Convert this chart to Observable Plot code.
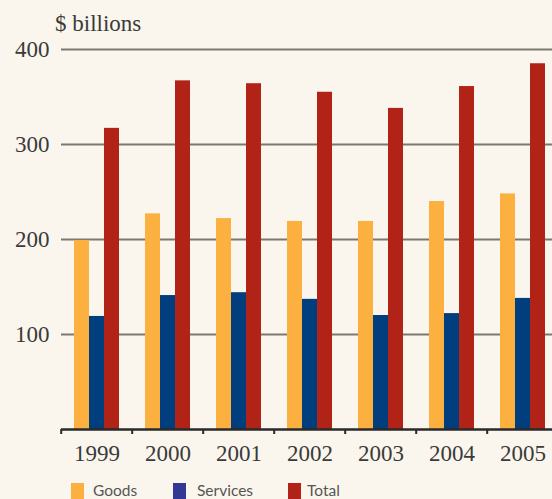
<!DOCTYPE html>
<html><head><meta charset="utf-8">
<script src="https://cdn.jsdelivr.net/npm/d3@7"></script>
<script src="https://cdn.jsdelivr.net/npm/@observablehq/plot@0.6"></script>
<style>
html,body{margin:0;padding:0;background:#faf6ed;}
body{width:552px;height:499px;overflow:hidden;position:relative;}
#chart{position:absolute;left:0;top:0;}
#ylabel{position:absolute;left:55px;top:12px;font-family:"Liberation Serif",serif;font-size:23px;line-height:23px;color:#3a3a3a;white-space:nowrap;}
.lg-sw{position:absolute;top:483px;width:13px;height:16px;}
.lg-tx{position:absolute;top:482px;font-family:Lato,"Liberation Sans",sans-serif;font-size:15.5px;line-height:16px;color:#555;white-space:nowrap;}
</style></head><body>
<div id="chart"></div>
<div id="ylabel">$ billions</div>
<div id="legend"></div>
<script>
const years = ["1999","2000","2001","2002","2003","2004","2005"];
const series = ["Goods","Services","Total"];
const goods = [199,227,222,219,219,240,248];
const services = [119,141,144,137,120,122,138];
const total = [317,367,364,355,338,361,385];
const yTicks = [100,200,300,400];
const barColors = ["#fbb040","#003e7e","#b22317"];
const legendColors = ["#fbb040","#333895","#b22317"];

const data = years.flatMap((year, i) => [
  {year, series: "Goods", value: goods[i]},
  {year, series: "Services", value: services[i]},
  {year, series: "Total", value: total[i]}
]);

const plot = Plot.plot({
  width: 552,
  height: 470,
  marginLeft: 59,
  marginRight: -8,
  marginTop: 49,
  marginBottom: 41,
  style: {background: "transparent", fontFamily: "Liberation Serif", fontSize: "23px", color: "#3a3a3a", overflow: "hidden"},
  fx: {domain: years, paddingInner: 0, paddingOuter: 0, label: null, axis: null},
  x: {domain: series, paddingInner: 0, paddingOuter: 0.74, axis: null},
  y: {domain: [0, 400]},
  color: {domain: series, range: barColors},
  marks: [
    Plot.gridY(yTicks, {stroke: "#7d7870", strokeOpacity: 1, strokeWidth: 2}),
    Plot.barY(data, {fx: "year", x: "series", y: "value", fill: "series"}),
    Plot.ruleY([0], {stroke: "#2a2a2a", strokeWidth: 2.5}),
    Plot.axisY(yTicks, {tickSize: 0, tickPadding: 12, label: null}),
    Plot.axisFx({anchor: "bottom", tickSize: 0, tickPadding: 15, label: null}),
    Plot.axisFx({anchor: "bottom", tickSize: 5, tickFormat: () => "", dx: -35.8, label: null, strokeWidth: 2, stroke: "#2a2a2a"})
  ]
});
document.getElementById("chart").appendChild(plot);

const legendX = [71, 173, 288];
const legendTextX = [93, 197, 307];
const legend = document.getElementById("legend");
series.forEach((s, i) => {
  const sw = document.createElement("div");
  sw.className = "lg-sw";
  sw.style.left = legendX[i] + "px";
  sw.style.background = legendColors[i];
  legend.appendChild(sw);
  const tx = document.createElement("div");
  tx.className = "lg-tx";
  tx.style.left = legendTextX[i] + "px";
  tx.textContent = s;
  legend.appendChild(tx);
});
</script>
</body></html>
